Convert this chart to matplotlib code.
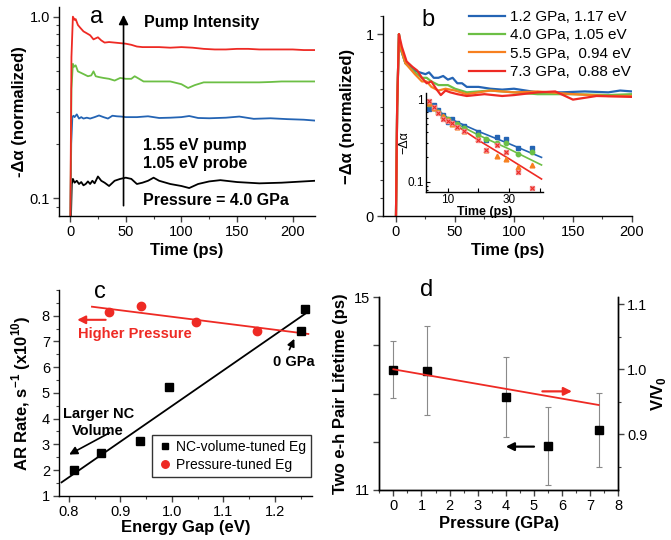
import numpy as np
import matplotlib
matplotlib.use("Agg")
import matplotlib.pyplot as plt
from matplotlib.ticker import FixedLocator, FixedFormatter, MultipleLocator, NullFormatter

plt.rcParams['font.family'] = ['Liberation Sans', 'DejaVu Sans']
plt.rcParams['mathtext.fontset'] = 'custom'
plt.rcParams['mathtext.rm'] = 'Liberation Sans'
plt.rcParams['mathtext.bf'] = 'Liberation Sans:bold'
plt.rcParams['axes.linewidth'] = 1.0

RED = '#ee2a24'
GREEN = '#6cbf45'
BLUE = '#2464b4'
ORANGE = '#f7801f'
PINK = '#f29a9a'

# ---------------- panel a : pump intensity, 4.0 GPa ----------------
t_red_a = [0, 1.2, 2.5, 4, 5, 7, 9, 12, 15, 18, 21, 23, 25, 28, 31, 35, 40, 45, 50, 55, 60,
           65, 70, 80, 90, 100, 110, 120, 130, 140, 150, 160, 170, 180, 190, 200, 210, 220]
v_red_a = [0.05, 0.6, 1.0, 0.96, 0.97, 0.9, 0.87, 0.83, 0.81, 0.79, 0.75, 0.76, 0.77, 0.74,
           0.72, 0.725, 0.72, 0.715, 0.71, 0.70, 0.685, 0.68, 0.68, 0.68, 0.675, 0.68, 0.675,
           0.665, 0.66, 0.66, 0.665, 0.665, 0.66, 0.66, 0.66, 0.66, 0.655, 0.655]
t_green_a = [0, 1.2, 2.5, 3.5, 5, 7, 10, 13, 16, 19, 21, 23, 26, 30, 35, 40, 45, 50, 55, 58,
             62, 66, 70, 80, 90, 100, 106, 112, 120, 130, 140, 150, 160, 170, 180, 190, 200, 210, 220]
v_green_a = [0.05, 0.4, 0.55, 0.53, 0.54, 0.5, 0.49, 0.48, 0.47, 0.475, 0.5, 0.47, 0.465, 0.46,
             0.455, 0.445, 0.46, 0.455, 0.455, 0.47, 0.455, 0.44, 0.44, 0.44, 0.44, 0.425, 0.405,
             0.42, 0.435, 0.435, 0.435, 0.435, 0.435, 0.435, 0.437, 0.44, 0.44, 0.44, 0.44]
t_blue_a = [0, 1, 2, 3, 4, 6, 8, 10, 12, 15, 18, 22, 26, 30, 34, 38, 42, 46, 50, 55, 60, 70,
            80, 90, 100, 107, 115, 125, 140, 152, 165, 180, 195, 210, 220]
v_blue_a = [0.05, 0.2, 0.28, 0.285, 0.28, 0.29, 0.275, 0.28, 0.275, 0.278, 0.275, 0.28, 0.286,
            0.28, 0.275, 0.285, 0.283, 0.282, 0.28, 0.28, 0.28, 0.283, 0.277, 0.278, 0.28, 0.284,
            0.277, 0.276, 0.278, 0.282, 0.274, 0.276, 0.273, 0.271, 0.268]
t_black_a = [0, 1.5, 2.5, 4, 6, 8, 10, 12, 14, 16, 18, 20, 22, 25, 28, 31, 35, 40, 45, 50, 55,
             60, 65, 70, 75, 80, 90, 100, 107, 115, 125, 135, 150, 170, 190, 210, 220]
v_black_a = [0.05, 0.12, 0.128, 0.122, 0.125, 0.12, 0.123, 0.118, 0.12, 0.124, 0.12, 0.125,
             0.121, 0.132, 0.125, 0.122, 0.117, 0.125, 0.128, 0.13, 0.128, 0.12, 0.122, 0.125,
             0.13, 0.125, 0.12, 0.117, 0.114, 0.12, 0.124, 0.126, 0.123, 0.121, 0.122, 0.124, 0.125]

# ---------------- panel b : pressure series ----------------
t_blue_b = [0, 1, 2.5, 4, 8, 12, 16, 20, 25, 28, 32, 36, 40, 44, 48, 52, 56, 60, 70, 80, 90,
            100, 120, 140, 160, 180, 190, 200]
v_blue_b = [0, 0.6, 1.0, 0.92, 0.84, 0.82, 0.80, 0.79, 0.78, 0.79, 0.76, 0.76, 0.77, 0.75,
            0.76, 0.73, 0.73, 0.71, 0.71, 0.70, 0.695, 0.70, 0.68, 0.68, 0.685, 0.68, 0.69, 0.685]
t_green_b = [0, 1, 2.5, 4, 8, 16, 22, 26, 30, 36, 44, 50, 60, 80, 100, 120, 150, 180, 200]
v_green_b = [0, 0.6, 1.0, 0.92, 0.84, 0.79, 0.76, 0.76, 0.74, 0.72, 0.72, 0.70, 0.68, 0.69,
             0.68, 0.67, 0.67, 0.665, 0.67]
t_orange_b = [0, 1, 2.5, 4, 8, 16, 22, 26, 30, 36, 42, 50, 60, 80, 100, 120, 150, 180, 200]
v_orange_b = [0, 0.6, 1.0, 0.93, 0.84, 0.78, 0.74, 0.74, 0.71, 0.69, 0.70, 0.69, 0.67, 0.69,
              0.68, 0.685, 0.67, 0.66, 0.66]
t_red_b = [0, 1, 2.5, 5, 9, 14, 18, 22, 26, 30, 34, 38, 42, 46, 52, 60, 75, 90, 100, 120, 135,
           150, 170, 200]
v_red_b = [0, 0.6, 1.0, 0.93, 0.85, 0.82, 0.80, 0.76, 0.73, 0.74, 0.70, 0.665, 0.69, 0.68,
           0.67, 0.66, 0.67, 0.66, 0.665, 0.68, 0.685, 0.64, 0.66, 0.655]
labels_b = ['1.2 GPa, 1.17 eV', '4.0 GPa, 1.05 eV', '5.5 GPa,  0.94 eV', '7.3 GPa,  0.88 eV']

# inset of b: early-time points and fits
t_ins = [4, 5.5, 7, 8.5, 10, 11.5, 13, 15.3, 19.8, 22.5, 25.9, 29.1, 32.9, 37.3]
v_ins_blue = [0.76, 0.85, 0.74, 0.64, 0.53, 0.58, 0.52, 0.48, 0.40, 0.32, 0.35, 0.33, 0.26, 0.26]
v_ins_green = [0.88, 0.80, 0.70, 0.62, 0.58, 0.52, 0.50, 0.45, 0.37, 0.33, 0.30, 0.30, 0.22, 0.23]
v_ins_orange = [0.90, 0.78, 0.70, 0.63, 0.56, 0.50, 0.47, 0.42, 0.33, 0.24, 0.205, 0.19, 0.15, 0.16]
v_ins_red = [0.95, 0.82, 0.68, 0.58, 0.55, 0.52, 0.46, 0.42, 0.325, 0.24, 0.28, 0.23, 0.13, 0.084]
t_fit = [3, 10, 20, 30, 40.5]
fit_blue = [0.97, 0.60, 0.41, 0.29, 0.198]
fit_green = [0.97, 0.58, 0.37, 0.25, 0.16]
fit_red = [0.97, 0.57, 0.32, 0.19, 0.108]

# ---------------- panel c ----------------
eg_nc = [0.81, 0.862, 0.938, 0.995, 1.25, 1.258]
ar_nc = [2.0, 2.66, 3.14, 5.24, 7.42, 8.26]
eg_p = [0.878, 0.94, 1.047, 1.165]
ar_p = [8.16, 8.39, 7.75, 7.42]
fit_nc_x = [0.786, 1.265]
fit_nc_y = [1.52, 8.16]
fit_p_x = [0.845, 1.265]
fit_p_y = [8.35, 7.29]

# ---------------- panel d ----------------
pres = [0, 1.2, 4.0, 5.5, 7.3]
life = [13.5, 13.48, 12.92, 11.91, 12.24]
life_err = [0.6, 0.93, 0.83, 0.81, 0.77]
vv0_p = [0, 7.3]
vv0 = [1.0, 0.945]

fig = plt.figure(figsize=(6.71, 5.40), dpi=100)


def style(ax):
    ax.spines['top'].set_visible(False)
    ax.spines['right'].set_visible(False)
    ax.tick_params(which='major', direction='out', length=4, width=1, labelsize=10.5,
                   color='#444444', pad=2.5)
    ax.tick_params(which='minor', direction='out', length=2.2, width=0.8, color='#444444')


# ---- a ----
ax = fig.add_axes([0.0879, 0.600, 0.3815, 0.387])
ax.plot(t_black_a, v_black_a, color='black', lw=1.3)
ax.plot(t_blue_a, v_blue_a, color=BLUE, lw=1.3)
ax.plot(t_green_a, v_green_a, color=GREEN, lw=1.3)
ax.plot(t_red_a, v_red_a, color=RED, lw=1.3)
ax.set_yscale('log')
ax.set_xlim(-10, 220)
ax.set_ylim(0.08, 1.13)
style(ax)
ax.xaxis.set_major_locator(MultipleLocator(50))
ax.xaxis.set_minor_locator(MultipleLocator(25))
ax.yaxis.set_major_locator(FixedLocator([0.1, 1.0]))
ax.yaxis.set_major_formatter(FixedFormatter(['0.1', '1.0']))
ax.yaxis.set_minor_locator(FixedLocator([0.09] + [0.1 * k for k in range(2, 10)]))
ax.yaxis.set_minor_formatter(NullFormatter())
ax.set_xlabel('Time (ps)', fontsize=12, fontweight='bold', labelpad=3)
ax.set_ylabel('-\u0394\u03b1 (normalized)', fontsize=12, fontweight='bold', labelpad=2)
ax.annotate('', xy=(48, 1.06), xytext=(48, 0.088),
            arrowprops=dict(arrowstyle='-|>', color='black', lw=1.2, mutation_scale=14))
ax.text(24, 0.99, 'a', fontsize=17, ha='center', va='center')
ax.text(66, 0.93, 'Pump Intensity', fontsize=11.5, fontweight='bold', va='center')
ax.text(65.5, 0.196, '1.55 eV pump', fontsize=11.5, fontweight='bold', va='center')
ax.text(65.5, 0.156, '1.05 eV probe', fontsize=11.5, fontweight='bold', va='center')
ax.text(65.5, 0.0975, 'Pressure = 4.0 GPa', fontsize=11.5, fontweight='bold', va='center')

# ---- b ----
bx = fig.add_axes([0.5708, 0.600, 0.371, 0.3704])
bx.plot(t_blue_b, v_blue_b, color=BLUE, lw=1.6, label=labels_b[0])
bx.plot(t_green_b, v_green_b, color=GREEN, lw=1.6, label=labels_b[1])
bx.plot(t_orange_b, v_orange_b, color=ORANGE, lw=1.6, label=labels_b[2])
bx.plot(t_red_b, v_red_b, color=RED, lw=1.6, label=labels_b[3])
bx.set_xlim(-11, 200)
bx.set_ylim(0, 1.1)
style(bx)
bx.xaxis.set_major_locator(MultipleLocator(50))
bx.xaxis.set_minor_locator(MultipleLocator(25))
bx.yaxis.set_major_locator(FixedLocator([0, 1]))
bx.yaxis.set_minor_locator(MultipleLocator(0.1))
bx.set_xlabel('Time (ps)', fontsize=12, fontweight='bold', labelpad=3)
bx.set_ylabel('\u2212\u0394\u03b1 (normalized)', fontsize=12, fontweight='bold', labelpad=8)
bx.text(27, 1.077, 'b', fontsize=17, ha='center', va='center')
bx.legend(loc='upper right', bbox_to_anchor=(1.02, 1.06), frameon=False, fontsize=11,
          handlelength=2.4, handletextpad=0.3, labelspacing=0.28, borderaxespad=0)

ix = fig.add_axes([0.6349, 0.6444, 0.1744, 0.1833])
ix.patch.set_alpha(0)
ix.plot(t_fit, fit_blue, color=BLUE, lw=1.2)
ix.plot(t_fit, fit_green, color=GREEN, lw=1.2)
ix.plot(t_fit, fit_red, color=RED, lw=1.2)
ix.plot(t_ins, v_ins_blue, 's', color=BLUE, ms=3.2, ls='none')
ix.plot(t_ins, v_ins_green, 'o', color=GREEN, ms=3.2, ls='none')
ix.plot(t_ins, v_ins_orange, '^', color=ORANGE, ms=3.4, ls='none')
ix.plot(t_ins, v_ins_red, 's', color=PINK, ms=3.4, ls='none')
ix.plot(t_ins, v_ins_red, 'x', color=RED, ms=2.2, mew=0.8, ls='none')
ix.set_yscale('log')
ix.set_xlim(3, 41)
ix.set_ylim(0.075, 1.2)
ix.spines['top'].set_visible(False)
ix.spines['right'].set_visible(False)
ix.tick_params(which='both', direction='in', labelsize=8.5, width=0.8, pad=1.5)
ix.tick_params(which='major', length=3)
ix.tick_params(which='minor', length=1.6)
ix.xaxis.set_major_locator(FixedLocator([10, 20, 30, 40]))
ix.xaxis.set_major_formatter(FixedFormatter(['10', '', '30', '']))
ix.xaxis.set_minor_locator(FixedLocator([]))
ix.yaxis.set_major_locator(FixedLocator([0.1, 1]))
ix.yaxis.set_major_formatter(FixedFormatter(['0.1', '1']))
ix.yaxis.set_minor_locator(FixedLocator([0.08, 0.09] + [0.1 * k for k in range(2, 10)]))
ix.yaxis.set_minor_formatter(NullFormatter())
ix.set_xlabel('Time (ps)', fontsize=9, fontweight='bold', labelpad=0)
ix.set_ylabel('\u2212\u0394\u03b1', fontsize=9, labelpad=-2)

# ---- c ----
cx = fig.add_axes([0.0879, 0.082, 0.377, 0.381])
cx.plot(fit_nc_x, fit_nc_y, color='black', lw=1.3)
cx.plot(fit_p_x, fit_p_y, color=RED, lw=1.3)
cx.plot(eg_nc, ar_nc, 's', color='black', ms=5.5, ls='none', label='NC-volume-tuned Eg')
cx.plot(eg_p, ar_p, 'o', color=RED, ms=6, ls='none', label='Pressure-tuned Eg')
cx.set_xlim(0.781, 1.272)
cx.set_ylim(1, 9)
style(cx)
cx.xaxis.set_major_locator(MultipleLocator(0.1))
cx.xaxis.set_minor_locator(MultipleLocator(0.05))
cx.yaxis.set_major_locator(FixedLocator([1, 2, 3, 4, 5, 6, 7, 8]))
cx.yaxis.set_minor_locator(MultipleLocator(0.5))
cx.set_xlabel('Energy Gap (eV)', fontsize=12, fontweight='bold', labelpad=1)
cx.set_ylabel(r'AR Rate, s$^{\mathbf{-1}}$ (x10$^{\mathbf{10}}$)', fontsize=12,
              fontweight='bold', labelpad=6)
cx.text(0.86, 8.93, 'c', fontsize=17, ha='center', va='center')
cx.annotate('', xy=(0.811, 7.84), xytext=(0.877, 7.84),
            arrowprops=dict(arrowstyle='-|>', color=RED, lw=1.5, mutation_scale=12))
cx.text(0.818, 7.3, 'Higher Pressure', color=RED, fontsize=10.5, fontweight='bold',
        va='center')
cx.text(1.236, 6.2, '0 GPa', fontsize=10.5, fontweight='bold', ha='center', va='center')
cx.annotate('', xy=(1.24, 7.2), xytext=(1.226, 6.58),
            arrowprops=dict(arrowstyle='-|>', color='black', lw=1.2, mutation_scale=11))
cx.text(0.857, 3.85, 'Larger NC\nVolume', fontsize=10.5, fontweight='bold', ha='center',
        va='center', linespacing=1.25)
cx.annotate('', xy=(0.796, 2.55), xytext=(0.884, 3.5),
            arrowprops=dict(arrowstyle='-|>', color='black', lw=1.2, mutation_scale=12))
cx.legend(loc='lower right', bbox_to_anchor=(0.995, 0.09), fontsize=10, frameon=True,
          fancybox=False, edgecolor='black', handletextpad=0.1, borderpad=0.35,
          labelspacing=0.3, handlelength=1.3, borderaxespad=0, markerscale=0.9)

# ---- d ----
dx = fig.add_axes([0.5653, 0.0926, 0.3562, 0.3569])
dx.errorbar(pres, life, yerr=life_err, fmt='s', color='black', ms=5.5, ecolor='#8a8a8a',
            elinewidth=0.8, capsize=2, capthick=0.8)
dx.set_xlim(-0.5, 8)
dx.set_ylim(11, 15)
dx.spines['top'].set_visible(False)
dx.tick_params(which='major', direction='out', length=4, width=1, labelsize=10.5,
               color='#444444', pad=2.5)
dx.tick_params(which='minor', direction='out', length=2.2, width=0.8, color='#444444')
dx.xaxis.set_major_locator(MultipleLocator(1))
dx.xaxis.set_minor_locator(MultipleLocator(0.5))
dx.yaxis.set_major_locator(FixedLocator([11, 12, 13, 14, 15]))
dx.yaxis.set_major_formatter(FixedFormatter(['11', '', '', '', '15']))
dx.set_xlabel('Pressure (GPa)', fontsize=12, fontweight='bold', labelpad=2)
dx.set_ylabel('Two e-h Pair Lifetime (ps)', fontsize=12, fontweight='bold', labelpad=4)
dx.text(1.2, 15.15, 'd', fontsize=17, ha='center', va='center')
dx.annotate('', xy=(3.9, 11.9), xytext=(5.1, 11.9),
            arrowprops=dict(arrowstyle='-|>', color='black', lw=1.6, mutation_scale=12))

d2 = dx.twinx()
d2.plot(vv0_p, vv0, color=RED, lw=1.3)
d2.set_ylim(0.814, 1.111)
d2.spines['top'].set_visible(False)
d2.tick_params(which='major', direction='out', length=4, width=1, labelsize=10.5,
               color='#444444', pad=2.5)
d2.tick_params(which='minor', direction='out', length=2.2, width=0.8, color='#444444')
d2.yaxis.set_major_locator(FixedLocator([0.9, 1.0, 1.1]))
d2.yaxis.set_minor_locator(FixedLocator([0.85, 0.95, 1.05]))
d2.set_ylabel(r'V/V$_{\mathbf{0}}$', fontsize=12, fontweight='bold', labelpad=1)
d2.annotate('', xy=(6.45, 0.966), xytext=(5.2, 0.966),
            arrowprops=dict(arrowstyle='-|>', color=RED, lw=1.6, mutation_scale=12))

fig.savefig('out.png', dpi=100)
